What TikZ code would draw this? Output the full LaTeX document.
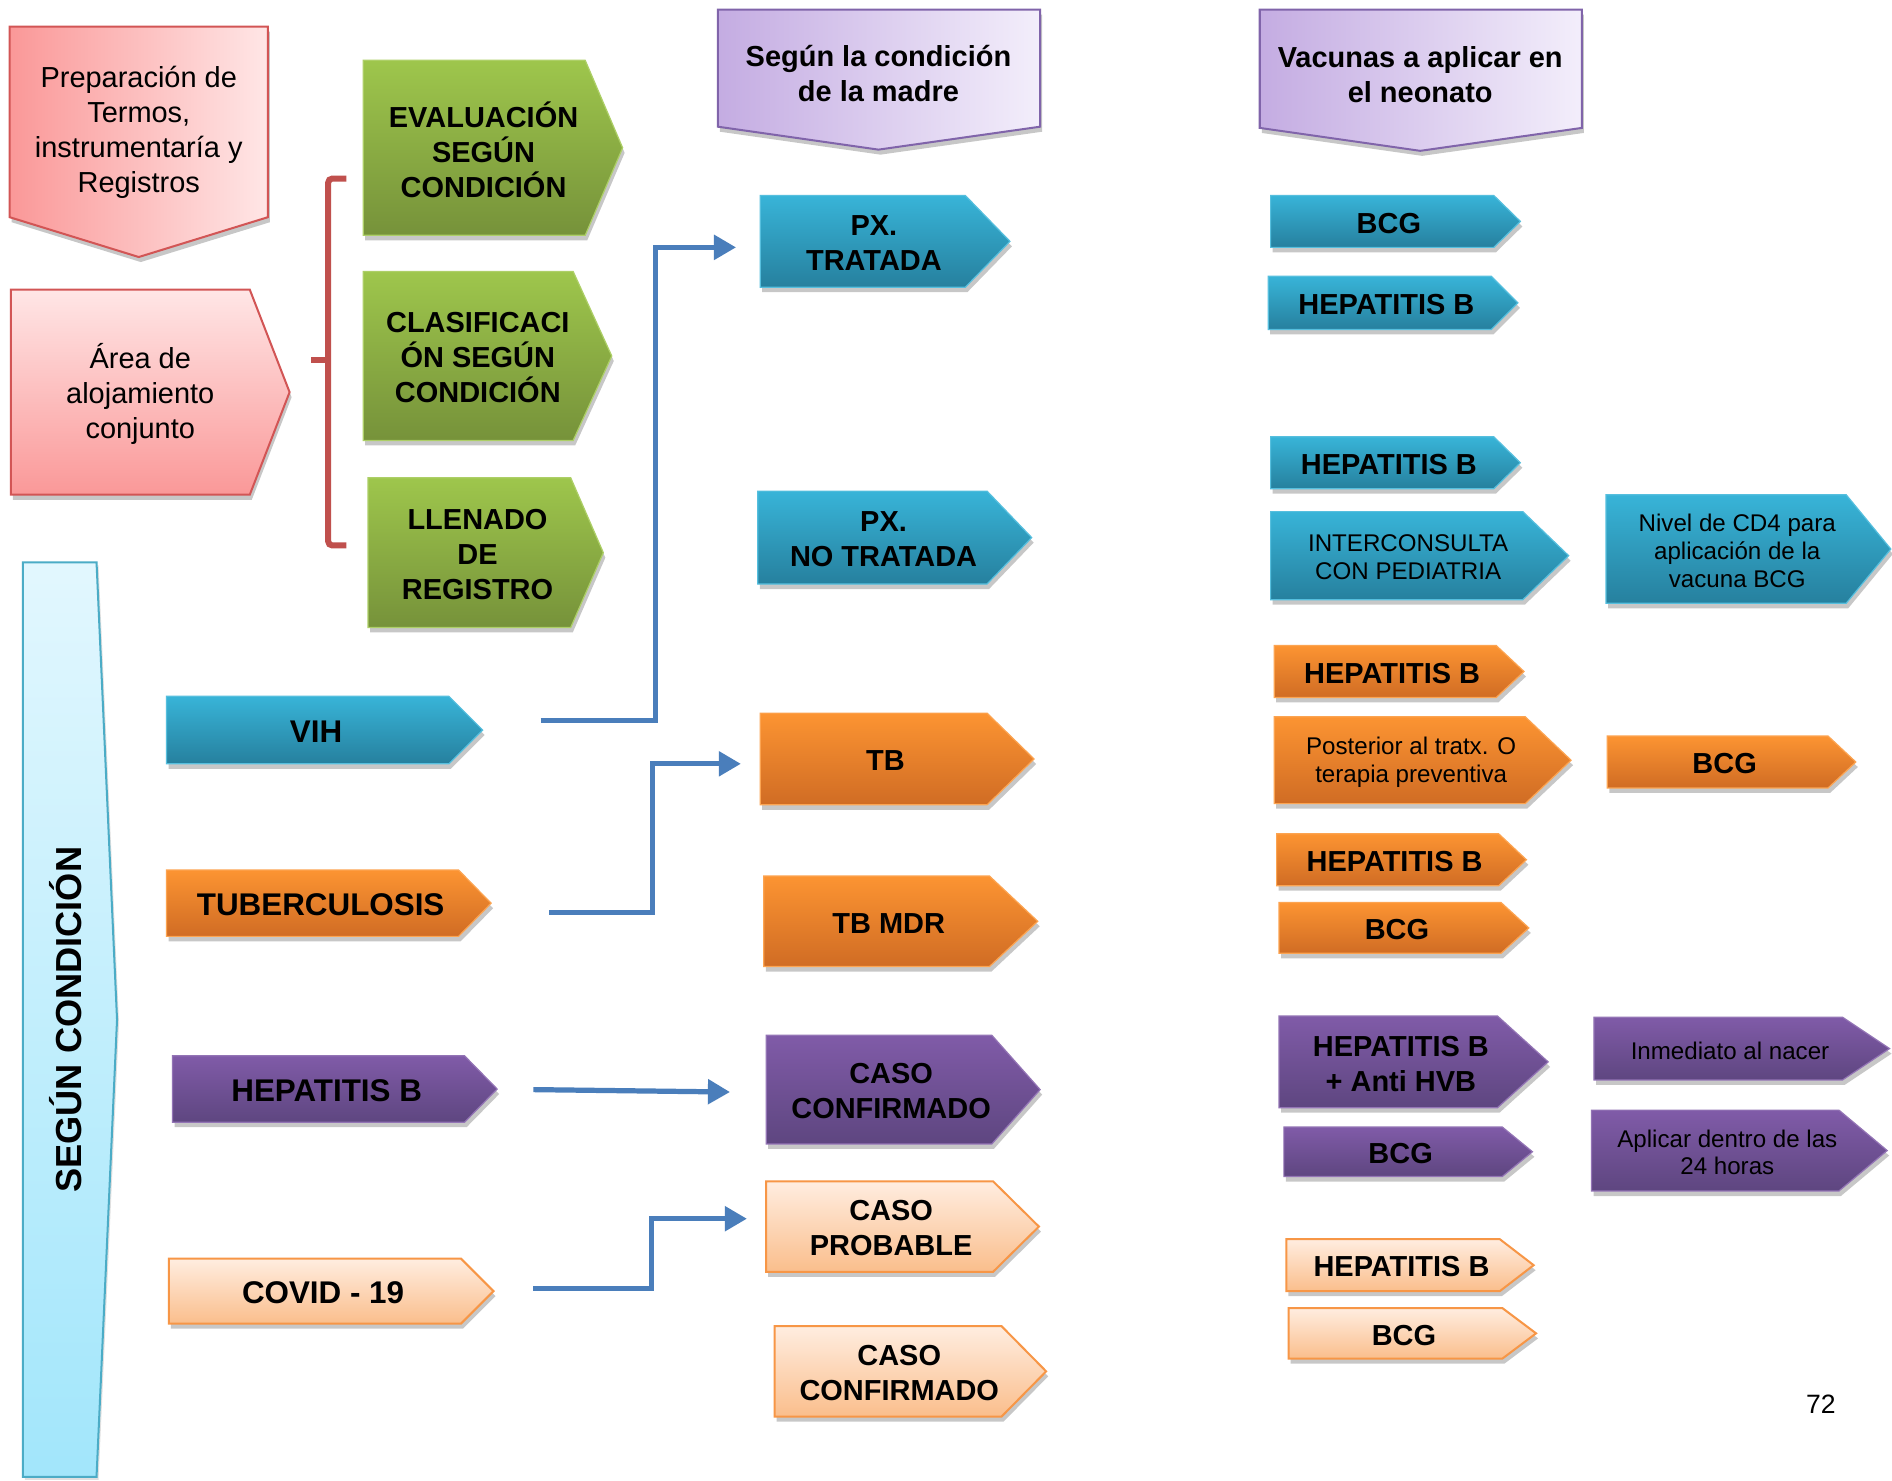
\documentclass[tikz,border=0pt]{standalone}
\usepackage{fontspec}
\setmainfont{Liberation Sans}
\usetikzlibrary{arrows.meta,shadows}
\definecolor{bluetop}{RGB}{56,180,216}
\definecolor{bluebot}{RGB}{38,128,158}
\definecolor{orangetop}{RGB}{252,148,50}
\definecolor{orangebot}{RGB}{208,108,36}
\definecolor{purpletop}{RGB}{128,91,168}
\definecolor{purplebot}{RGB}{94,70,128}
\definecolor{greentop}{RGB}{158,198,76}
\definecolor{greenbot}{RGB}{118,146,58}
\definecolor{peachtop}{RGB}{255,237,224}
\definecolor{peachbot}{RGB}{250,190,140}
\definecolor{peachline}{RGB}{247,150,70}
\definecolor{pinkdark}{RGB}{250,152,152}
\definecolor{pinklight}{RGB}{255,230,230}
\definecolor{pinkline}{RGB}{210,85,85}
\definecolor{lavdark}{RGB}{196,172,226}
\definecolor{lavlight}{RGB}{243,238,251}
\definecolor{lavline}{RGB}{128,100,170}
\definecolor{cyantop}{RGB}{226,247,254}
\definecolor{cyanbot}{RGB}{162,230,251}
\definecolor{cyanline}{RGB}{75,172,198}
\definecolor{connblue}{RGB}{74,126,187}
\definecolor{brackred}{RGB}{192,80,77}
\tikzset{
  sh/.style={drop shadow={shadow xshift=1pt,shadow yshift=-2.5pt,fill=black,opacity=0.22}},
  bluebox/.style={sh,top color=bluetop,bottom color=bluebot,draw=bluetop!85!white,line width=0.6pt},
  orangebox/.style={sh,top color=orangetop,bottom color=orangebot,draw=orangetop!85!white,line width=0.6pt},
  purplebox/.style={sh,top color=purpletop,bottom color=purplebot,draw=purpletop!85!white,line width=0.6pt},
  greenbox/.style={sh,top color=greentop,bottom color=greenbot,draw=greentop!85!white,line width=0.6pt},
  peachbox/.style={sh,top color=peachtop,bottom color=peachbot,draw=peachline,line width=1pt},
  pinkv/.style={sh,top color=pinklight,bottom color=pinkdark,draw=pinkline,line width=1pt},
  pinkh/.style={sh,left color=pinkdark,right color=pinklight,draw=pinkline,line width=1pt},
  lavbox/.style={sh,left color=lavdark,right color=lavlight,draw=lavline,line width=1pt},
  cyanbox/.style={drop shadow={shadow xshift=1pt,shadow yshift=-1.5pt,fill=black,opacity=0.12},top color=cyantop,bottom color=cyanbot,draw=cyanline,line width=1pt},
  big/.style={font=\bfseries\fontsize{14.4}{17.4}\selectfont,align=center,inner sep=0pt},
  bigL/.style={font=\bfseries\fontsize{15.6}{18.7}\selectfont,align=center,inner sep=0pt},
  small/.style={font=\fontsize{12}{13.8}\selectfont,align=center,inner sep=0pt},
  reg/.style={font=\fontsize{14.4}{17.4}\selectfont,align=center,inner sep=0pt},
  conn/.style={draw=connblue,line width=2.6pt,-{Triangle[length=11pt,width=12pt]}},
  bracket/.style={draw=brackred,line width=3pt,rounded corners=2pt}
}
\newcommand\chev[9]{%
  \path[#2] (#3,#6) -- (#4,#6) -- (#5,{(#6+#7)/2}) -- (#4,#7) -- (#3,#7) -- cycle;
  \node[#8] (#1) at ({(#3+(#4+#5)/2)/2},{(#6+#7)/2+1.5}) {#9};}
\begin{document}
\begin{tikzpicture}[x=0.6pt,y=-0.6pt]
\useasboundingbox[fill=white] (0,0) rectangle (1568,1227);
% top-left pink shapes
\path[pinkh] (8,22) -- (222,22) -- (222,180) -- (115,213) -- (8,180) -- cycle;
\node[reg] (prep) at (115,110) {Preparación de\\Termos,\\instrumentaría y\\Registros};
\chev{area}{pinkv}{9}{207}{240}{240}{410}{reg}{Área de\\alojamiento\\conjunto}
% bracket
\draw[bracket] (287,148) -- (272,148) -- (272,452) -- (287,452);
\draw[bracket] (272,298) -- (258,298);
% green
\chev{eval}{greenbox}{301}{485}{516}{50}{195}{big}{EVALUACIÓN\\SEGÚN\\CONDICIÓN}
\chev{clas}{greenbox}{301}{475}{507}{225}{365}{big}{CLASIFICACI\\ÓN SEGÚN\\CONDICIÓN}
\chev{llen}{greenbox}{305}{473}{500}{396}{520}{big}{LLENADO\\DE\\REGISTRO}
% headers
\path[lavbox] (595,8) -- (862,8) -- (862,105) -- (728,124) -- (595,105) -- cycle;
\node[big] (hdra) at (728,61) {Según la condición\\de la madre};
\path[lavbox] (1044,8) -- (1311,8) -- (1311,106) -- (1177,125) -- (1044,106) -- cycle;
\node[big] (hdrb) at (1177,62) {Vacunas a aplicar en\\el neonato};
% left vertical
\path[cyanbox] (19,466) -- (80,466) -- (97,845) -- (80,1224) -- (19,1224) -- cycle;
\node[font=\bfseries\fontsize{18}{21}\selectfont,rotate=90,inner sep=0pt] (segun) at (54,845) {SEGÚN CONDICIÓN};
% blue
\chev{pxt}{bluebox}{630}{800}{837}{162}{238}{big}{PX.\\TRATADA}
\chev{pxnt}{bluebox}{628}{818}{855}{407}{484}{big}{PX.\\NO TRATADA}
\chev{vih}{bluebox}{138}{372}{400}{577}{633}{bigL}{VIH}
\chev{bcga}{bluebox}{1053}{1238}{1260}{162}{205}{big}{BCG}
\chev{hba}{bluebox}{1051}{1236}{1258}{229}{273}{big}{HEPATITIS B}
\chev{hbb}{bluebox}{1053}{1238}{1260}{362}{405}{big}{HEPATITIS B}
\chev{inter}{bluebox}{1053}{1262}{1300}{424}{497}{small}{INTERCONSULTA\\CON PEDIATRIA}
\chev{cd4}{bluebox}{1331}{1530}{1567}{410}{500}{small}{Nivel de CD4 para\\aplicación de la\\vacuna BCG}
% orange
\chev{tuber}{orangebox}{138}{380}{407}{721}{776}{bigL}{TUBERCULOSIS}
\chev{tb}{orangebox}{630}{818}{857}{591}{667}{big}{TB}
\chev{tbmdr}{orangebox}{633}{820}{860}{726}{801}{big}{TB MDR}
\chev{hbc}{orangebox}{1056}{1240}{1263}{535}{578}{big}{HEPATITIS B}
\chev{post}{orangebox}{1056}{1264}{1302}{594}{666}{small}{Posterior al tratx. O\\terapia preventiva}
\chev{bcgb}{orangebox}{1332}{1515}{1538}{610}{653}{big}{BCG}
\chev{hbd}{orangebox}{1058}{1242}{1265}{691}{734}{big}{HEPATITIS B}
\chev{bcgc}{orangebox}{1060}{1244}{1267}{748}{790}{big}{BCG}
% purple
\chev{hepl}{purplebox}{143}{385}{412}{875}{930}{bigL}{HEPATITIS B}
\chev{casoc}{purplebox}{635}{822}{862}{858}{948}{big}{CASO\\CONFIRMADO}
\chev{hbanti}{purplebox}{1060}{1241}{1283}{842}{918}{big}{HEPATITIS B\\+ Anti HVB}
\chev{bcgd}{purplebox}{1064}{1245}{1270}{934}{975}{big}{BCG}
\chev{inme}{purplebox}{1321}{1527}{1566}{843}{895}{small}{Inmediato al nacer}
\chev{apli}{purplebox}{1319}{1524}{1564}{920}{987}{small}{Aplicar dentro de las\\24 horas}
% peach
\chev{covid}{peachbox}{140}{382}{409}{1043}{1097}{bigL}{COVID - 19}
\chev{casop}{peachbox}{635}{823}{861}{979}{1054}{big}{CASO\\PROBABLE}
\chev{casoc2}{peachbox}{642}{830}{867}{1099}{1174}{big}{CASO\\CONFIRMADO}
\chev{hbe}{peachbox}{1066}{1243}{1271}{1027}{1070}{big}{HEPATITIS B}
\chev{bcge}{peachbox}{1068}{1245}{1273}{1084}{1126}{big}{BCG}
% connectors
\coordinate (c1s) at (448,597); \coordinate (c1e) at (610,205);
\coordinate (c2s) at (455,756); \coordinate (c2e) at (614,633);
\coordinate (c3s) at (442,903); \coordinate (c3e) at (605,905);
\coordinate (c4s) at (442,1068); \coordinate (c4e) at (619,1010);
\draw[conn] (c1s) -- ++(95,0) |- (c1e);
\draw[conn] (c2s) -- ++(86,0) |- (c2e);
\draw[conn] (c3s) -- (c3e);
\draw[conn] (c4s) -- ++(98,0) |- (c4e);
% page number
\node[font=\fontsize{13.2}{15}\selectfont,inner sep=0pt] (pg) at (1509,1164) {72};
\end{tikzpicture}
\end{document}
